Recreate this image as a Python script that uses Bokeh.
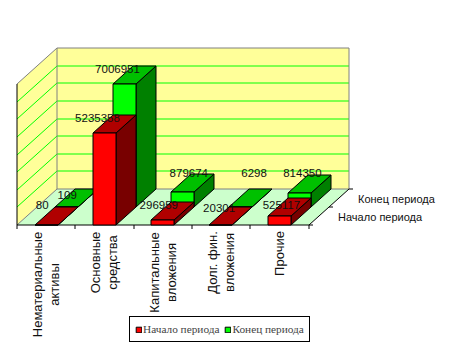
from bokeh.plotting import figure
from bokeh.models import Range1d, Legend, LegendItem
from bokeh.core.properties import value
from bokeh.embed import file_html
from bokeh.resources import INLINE
import math

categories = ["Нематериальные\nактивы", "Основные\nсредства", "Капитальные\nвложения", "Долг. фин.\nвложения", "Прочие"]
series_names = ["Начало периода", "Конец периода"]
start_values = [80, 5235358, 296959, 20301, 525117]
end_values = [109, 7006951, 879674, 6298, 814350]
value_ticks = [0, 1000000, 2000000, 3000000, 4000000, 5000000, 6000000, 7000000, 8000000]

# layout of the oblique projection (page pixels)
OX, OY = 16.5, 224.5      # front-left floor corner
CAT_W = 58.3
PX_PER_UNIT = 17.62 / 1000000
ROW_DX, ROW_DY = 20.0, -18.0
BAR_W, BAR_GAP = 23.4, 17.5
W, H = 455, 346

def snap(v):
    return math.floor(v) + 0.5

def proj(cat, rowdepth, val):
    return (snap(OX + cat * CAT_W + rowdepth * ROW_DX), snap(OY + rowdepth * ROW_DY - val * PX_PER_UNIT))

p = figure(width=W, height=H, output_backend="svg", toolbar_location=None,
           x_range=Range1d(0, W), y_range=Range1d(H, 0), min_border=0)
p.axis.visible = False
p.grid.visible = False
p.outline_line_color = None
p.background_fill_color = "white"

ncat = len(categories)
top_v = value_ticks[-1]
a = proj(0, 0, 0); b = proj(0, 2, 0); c = proj(ncat, 2, 0); d = proj(ncat, 0, 0)
at = proj(0, 0, top_v); bt = proj(0, 2, top_v); ct = proj(ncat, 2, top_v)

# walls and floor
p.patch([a[0], b[0], bt[0], at[0]], [a[1], b[1], bt[1], at[1]], fill_color="#FFFF99", line_color=None)
p.patch([b[0], c[0], ct[0], bt[0]], [b[1], c[1], ct[1], bt[1]], fill_color="#FFFF99", line_color=None)
p.patch([a[0], b[0], c[0], d[0]], [a[1], b[1], c[1], d[1]], fill_color="#CCFFCC", line_color=None)
# gridlines
for t in value_ticks[1:-1]:
    l = proj(0, 0, t); m = proj(0, 2, t); r = proj(ncat, 2, t)
    p.line([l[0], m[0], r[0]], [l[1], m[1], r[1]], line_color="#00FF00", line_width=1)
# wall edges
p.line([at[0], bt[0], ct[0], c[0]], [at[1], bt[1], ct[1], c[1]], line_color="#808080", line_width=1)
p.line([bt[0], b[0], c[0]], [bt[1], b[1], c[1]], line_color="#808080", line_width=1)
p.line([a[0], b[0]], [a[1], b[1]], line_color="#808080", line_width=1)
# axes
p.line([at[0], a[0], d[0], c[0]], [at[1], a[1], d[1], c[1]], line_color="black", line_width=1)
for i in range(ncat + 1):
    q = proj(i, 0, 0)
    p.line([q[0], q[0]], [q[1], q[1] + 4], line_color="black", line_width=1)
for r_ in range(3):
    q = proj(ncat, r_, 0)
    p.line([q[0], q[0] + 4], [q[1], q[1]], line_color="black", line_width=1)

# bars
styles = [("#FF0000", "#B00000", "#780000"), ("#00FF00", "#00C000", "#008000")]
fronts = []
for row, vals in reversed(list(enumerate([start_values, end_values]))):
    f_c, t_c, s_c = styles[row]
    fx, fy, tx, ty, sx, sy = [], [], [], [], [], []
    for i, v in enumerate(vals):
        x0 = snap(OX + i * CAT_W + BAR_GAP + row * ROW_DX)
        x1 = snap(x0 + BAR_W)
        y0 = snap(OY + row * ROW_DY)
        y1 = snap(y0 - v * PX_PER_UNIT)
        fx.append([x0, x1, x1, x0]); fy.append([y0, y0, y1, y1])
        tx.append([x0, x1, x1 + ROW_DX, x0 + ROW_DX]); ty.append([y1, y1, y1 + ROW_DY, y1 + ROW_DY])
        sx.append([x1, x1 + ROW_DX, x1 + ROW_DX, x1]); sy.append([y0, y0 + ROW_DY, y1 + ROW_DY, y1])
    p.patches(sx, sy, fill_color=s_c, line_color="black", line_width=1)
    p.patches(tx, ty, fill_color=t_c, line_color="black", line_width=1)
    fr = p.patches(fx, fy, fill_color=f_c, line_color="black", line_width=1)
    fronts.insert(0, fr)

# data labels
label_dx = [[-4, -7, -4, -2, 2], [1, -7, 6, 13, 3]]
label_dy = [[-20, -15, -15, -17, -11], [-12, -15, -19, -34, -20]]
lx, ly, lt = [], [], []
for row, vals in enumerate([start_values, end_values]):
    for i, v in enumerate(vals):
        lx.append(OX + i * CAT_W + BAR_GAP + row * ROW_DX + BAR_W / 2 + label_dx[row][i])
        ly.append(OY + row * ROW_DY - v * PX_PER_UNIT + label_dy[row][i])
        lt.append(str(v))
p.text(lx, ly, text=lt, text_font=value("Liberation Sans"), text_font_size="11.5px",
       text_color="#111111", text_align="center", text_baseline="middle")

# category labels
block_center = [284, 262, 272, 262, 253]
cx, cy, ct_ = [], [], []
for i, lab in enumerate(categories):
    lines = lab.split("\n")
    mid = OX + (i + 0.5) * CAT_W
    for j, ln in enumerate(lines):
        cx.append(mid + (j - (len(lines) - 1) / 2) * 17)
        cy.append(block_center[i])
        ct_.append(ln)
p.text(cx, cy, text=ct_, angle=math.pi / 2, text_font=value("Liberation Sans"), text_font_size="13px",
       text_color="#111111", text_align="center", text_baseline="middle")

# depth-axis labels
dx_, dy_, dt_ = [], [], []
for r_, name in enumerate(series_names):
    q = proj(ncat, r_ + 0.5, 0)
    dx_.append(q[0] + 19)
    dy_.append(q[1] + 0.5)
    dt_.append(name)
p.text(dx_, dy_, text=dt_, text_font=value("Liberation Sans"), text_font_size="11px",
       text_color="#111111", text_align="left", text_baseline="middle")

legend = Legend(items=[LegendItem(label=series_names[k], renderers=[fronts[k]]) for k in range(2)],
                orientation="horizontal", location=(129, 4), glyph_width=7, glyph_height=7,
                label_text_font="Liberation Serif", label_text_font_size="11.3px", label_standoff=1,
                spacing=5, padding=5, margin=0, border_line_color="black", border_line_width=1,
                border_line_alpha=1, label_height=14, background_fill_alpha=1)
p.add_layout(legend)

open("out.html", "w").write(file_html(p, INLINE))
